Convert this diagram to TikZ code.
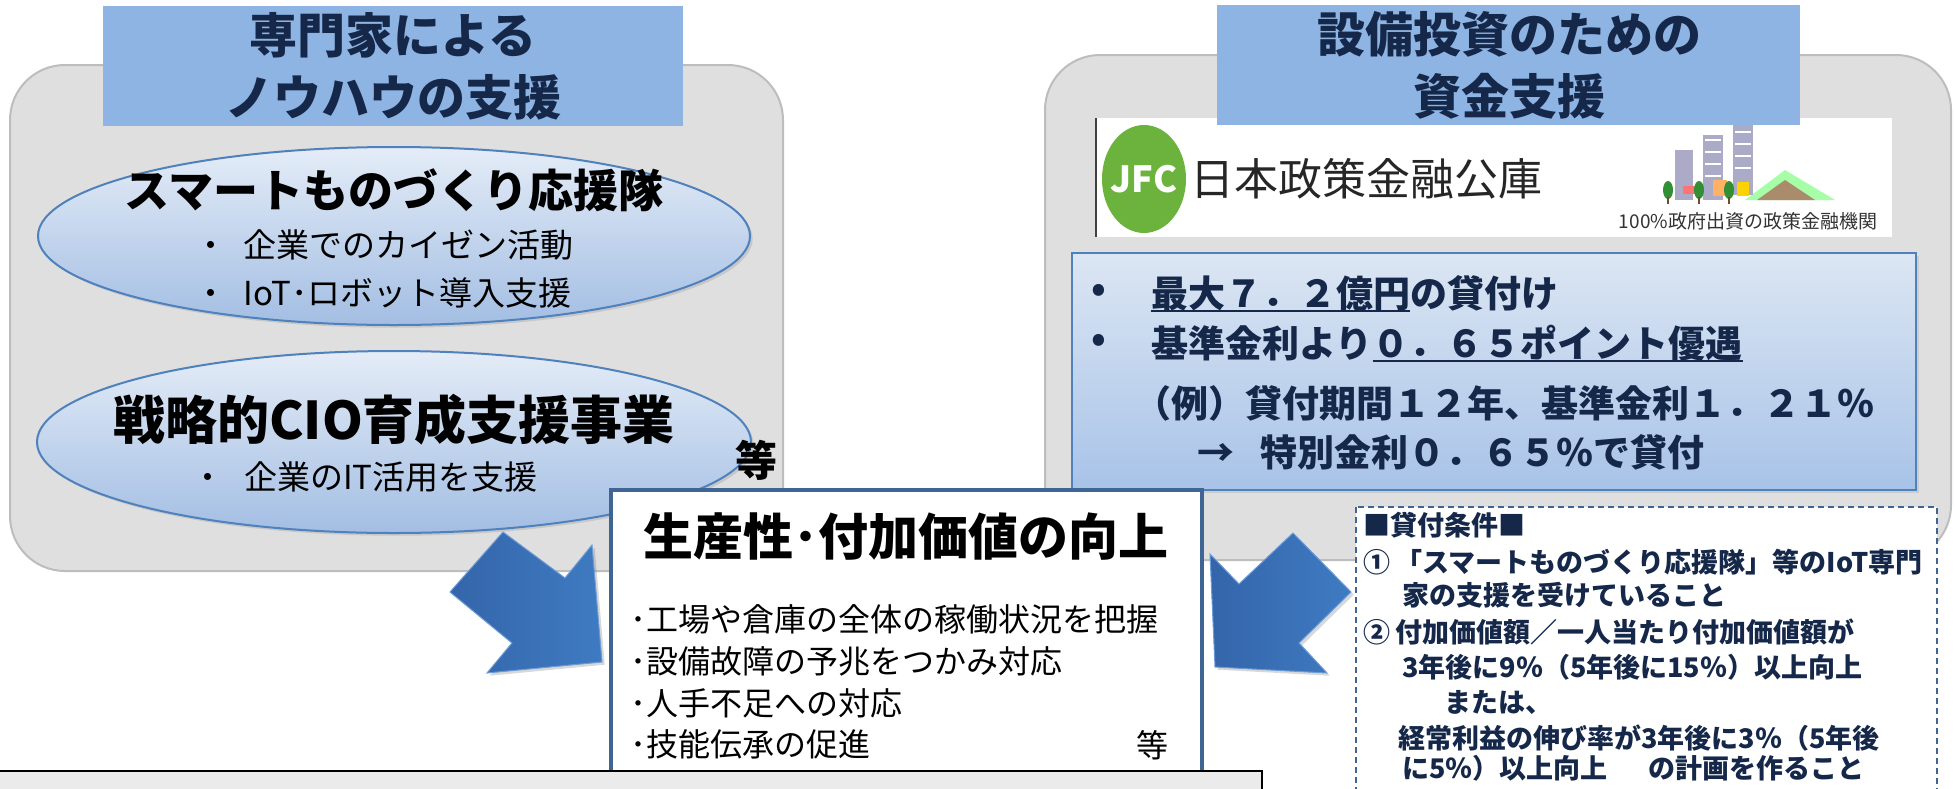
\documentclass[tikz,border=0pt]{standalone}
\usepackage{fontspec}
\setmainfont{Noto Sans CJK JP}
\usetikzlibrary{shadows}

\definecolor{headblue}{HTML}{8EB4E3}
\definecolor{inkblue}{HTML}{15284A}
\definecolor{panelgray}{HTML}{DFDFDF}
\definecolor{paneledge}{HTML}{BDBDBD}
\definecolor{ovaltop}{HTML}{E4ECF7}
\definecolor{ovalbot}{HTML}{A3BEE3}
\definecolor{ovaledge}{HTML}{4F81BD}
\definecolor{arrowblue}{HTML}{3F7BC2}
\definecolor{arrowdark}{HTML}{3465AA}
\definecolor{arrowedge}{HTML}{6C9BD6}
\definecolor{boxedge}{HTML}{3E6593}
\definecolor{infotop}{HTML}{DCE6F3}
\definecolor{infobot}{HTML}{A8C3E8}
\definecolor{jfcgreen}{HTML}{6BB33C}

\newcommand{\fsize}[2]{\fontsize{#1}{#2}\selectfont}

\tikzset{
    panel/.style={fill=panelgray, draw=paneledge, line width=2pt, rounded corners=55pt},
    headbox/.style={fill=headblue},
    headtext/.style={text=inkblue, font=\fsize{48}{62}\bfseries, align=center, inner sep=0pt},
    oval/.style={draw=ovaledge, line width=2pt, top color=ovaltop, bottom color=ovalbot,
        drop shadow={opacity=0.25}},
    bigarrow/.style={draw=arrowedge, line width=1pt, left color=arrowdark, right color=arrowblue,
        drop shadow={opacity=0.3}},
    txt/.style={inner sep=0pt, anchor=west},
    infotxt/.style={txt, text=inkblue, font=\fsize{37}{44}\bfseries},
    condtxt/.style={txt, text=inkblue, font=\fsize{27}{34}\bfseries},
    underbar/.style={draw=inkblue, line width=2.5pt}
}

\begin{document}
\begin{tikzpicture}[x=1pt, y=-1pt]

\useasboundingbox (0,0) rectangle (1955,788);
\clip (0,0) rectangle (1955,788);
\fill[white] (0,0) rectangle (1955,788);

% Grey panels
\draw[panel] (10,65) rectangle (783,571);
\draw[panel] (1045,55) rectangle (1951,560);

% Left header
\fill[headbox] (103,6) rectangle (683,126);
\node[headtext] (knowhowTitle) at (393,66) {専門家による\\ノウハウの支援};

% Logo strip
\fill[white] (1096,118) rectangle (1892,237);
\draw[line width=2pt, black!75] (1096,118) -- (1096,237);
\fill[jfcgreen] (1144,179) ellipse [x radius=42, y radius=54];
\node[inner sep=0pt, text=white, font=\fsize{36}{40}\bfseries] (jfcMark) at (1144,179) {JFC};
\node[txt, text=black!85, font=\fsize{44}{50}] (jfcName) at (1190,179) {日本政策金融公庫};

% little town
\fill[green!35!white] (1745,200) -- (1785,170) -- (1835,200) -- cycle;
\fill[brown!70!black!70] (1757,200) -- (1785,180) -- (1815,200) -- cycle;
\fill[blue!20!gray!55] (1675,150) rectangle (1693,200);
\fill[blue!20!gray!55] (1703,135) rectangle (1723,200);
\fill[blue!20!gray!55] (1733,124) rectangle (1753,195);
\foreach \yy in {140,152,164,176} {
    \draw[white, line width=1.5pt] (1705,\yy) -- (1721,\yy);
    \draw[white, line width=1.5pt] (1735,\yy-8) -- (1751,\yy-8);
}
\fill[red!55] (1683,186) rectangle (1697,194);
\fill[orange!60] (1713,180) rectangle (1727,196);
\fill[yellow!70!orange] (1737,182) rectangle (1749,196);
\foreach \xx in {1668,1699,1729} {
    \fill[green!45!black!80] (\xx,190) ellipse [x radius=5, y radius=9];
    \draw[brown!60!black, line width=1.5pt] (\xx,197) -- (\xx,204);
}
\node[inner sep=0pt, text=black!80, font=\fsize{19}{22}] (jfcNote) at (1748,221) {100\%政府出資の政策金融機関};

% Right header
\fill[headbox] (1217,5) rectangle (1800,125);
\node[headtext] (fundTitle) at (1509,65) {設備投資のための\\資金支援};

% Loan box
\draw[draw=ovaledge, line width=2pt, top color=infotop, bottom color=infobot,
    drop shadow={opacity=0.2}] (1072,253) rectangle (1916,490);
\node[inner sep=0pt, text=inkblue, font=\fsize{37}{44}\bfseries] (dotA) at (1099,293) {•};
\node[infotxt] (loanMax) at (1151,293) {最大７．２億円};
\node[infotxt] (loanTail) at (loanMax.east) {の貸付け};
\draw[underbar] (loanMax.south west) -- (loanMax.south east);
\node[inner sep=0pt, text=inkblue, font=\fsize{37}{44}\bfseries] (dotB) at (1099,343) {•};
\node[infotxt] (rateBase) at (1151,343) {基準金利より};
\node[infotxt] (ratePoint) at (rateBase.east) {０．６５ポイント優遇};
\draw[underbar] (ratePoint.south west) -- (ratePoint.south east);
\node[infotxt] (loanExample) at (1134,403) {（例）貸付期間１２年、基準金利１．２１％};
\node[infotxt] (loanSpecial) at (1197,452) {→\hspace{0.7em}特別金利０．６５％で貸付};

% Expert ovals
\draw[oval] (394,236) ellipse [x radius=356, y radius=89];
\node[inner sep=0pt, font=\fsize{45}{52}\bfseries] (smartTeam) at (394,190) {スマートものづくり応援隊};
\node[txt, font=\fsize{33}{40}] (kaizen) at (194,245) {・\hspace{0.5em}企業でのカイゼン活動};
\node[txt, font=\fsize{33}{40}] (iotRobot) at (194,293) {・\hspace{0.5em}IoT･ロボット導入支援};

\draw[oval] (394,442) ellipse [x radius=357, y radius=91];
\node[inner sep=0pt, font=\fsize{52}{60}\bfseries] (cioTitle) at (394,420) {戦略的CIO育成支援事業};
\node[txt, font=\fsize{33}{40}] (itUse) at (191,477) {・\hspace{0.6em}企業のIT活用を支援};
\node[inner sep=0pt, font=\fsize{42}{48}\bfseries] (etcLeft) at (756,460) {等};

% Block arrows
\draw[bigarrow] (503,532) -- (450,592) -- (512,643) -- (487,673) -- (602,662)
    -- (592,545) -- (565,578) -- cycle;
\draw[bigarrow] (1293,533) -- (1351,592) -- (1299,643) -- (1327,673) -- (1215,667)
    -- (1210,554) -- (1239,584) -- cycle;

% Centre box
\draw[line width=4pt, draw=boxedge, fill=white] (611,490) rectangle (1202,810);
\node[inner sep=0pt, font=\fsize{50}{58}\bfseries] (gainTitle) at (906,537) {生産性･付加価値の向上};
\foreach \txt [count=\i] in {･工場や倉庫の全体の稼働状況を把握, ･設備故障の予兆をつかみ対応,
    ･人手不足への対応, ･技能伝承の促進}
    \node[txt, font=\fsize{32}{38}] (gain\i) at (630,578+41.7*\i) {\txt};
\node[inner sep=0pt, font=\fsize{32}{38}] (etcGain) at (1152,745) {等};

% Loan conditions
\draw[draw=boxedge, line width=1.5pt, dash pattern=on 6pt off 4pt, fill=white]
    (1356,507) rectangle (1937,810);
\node[condtxt] (condHead) at (1363,525) {■貸付条件■};
\node[condtxt] (condA) at (1363,562) {①\hspace{0.2em}「スマートものづくり応援隊」等のIoT専門};
\node[condtxt] (condA2) at (1402,595) {家の支援を受けていること};
\node[condtxt] (condB) at (1363,632) {②\hspace{0.2em}付加価値額／一人当たり付加価値額が};
\node[condtxt] (condB2) at (1402,667) {3年後に9％（5年後に15％）以上向上};
\node[condtxt] (condB3) at (1444,702) {または、};
\node[condtxt] (condB4) at (1398,738) {経常利益の伸び率が3年後に3％（5年後};
\node[condtxt] (condB5) at (1402,768) {に5％）以上向上\hspace{1.5em}の計画を作ること};

% Footer strip
\draw[line width=2.5pt, fill=black!8] (-5,771) rectangle (1262,810);

\end{tikzpicture}
\end{document}
